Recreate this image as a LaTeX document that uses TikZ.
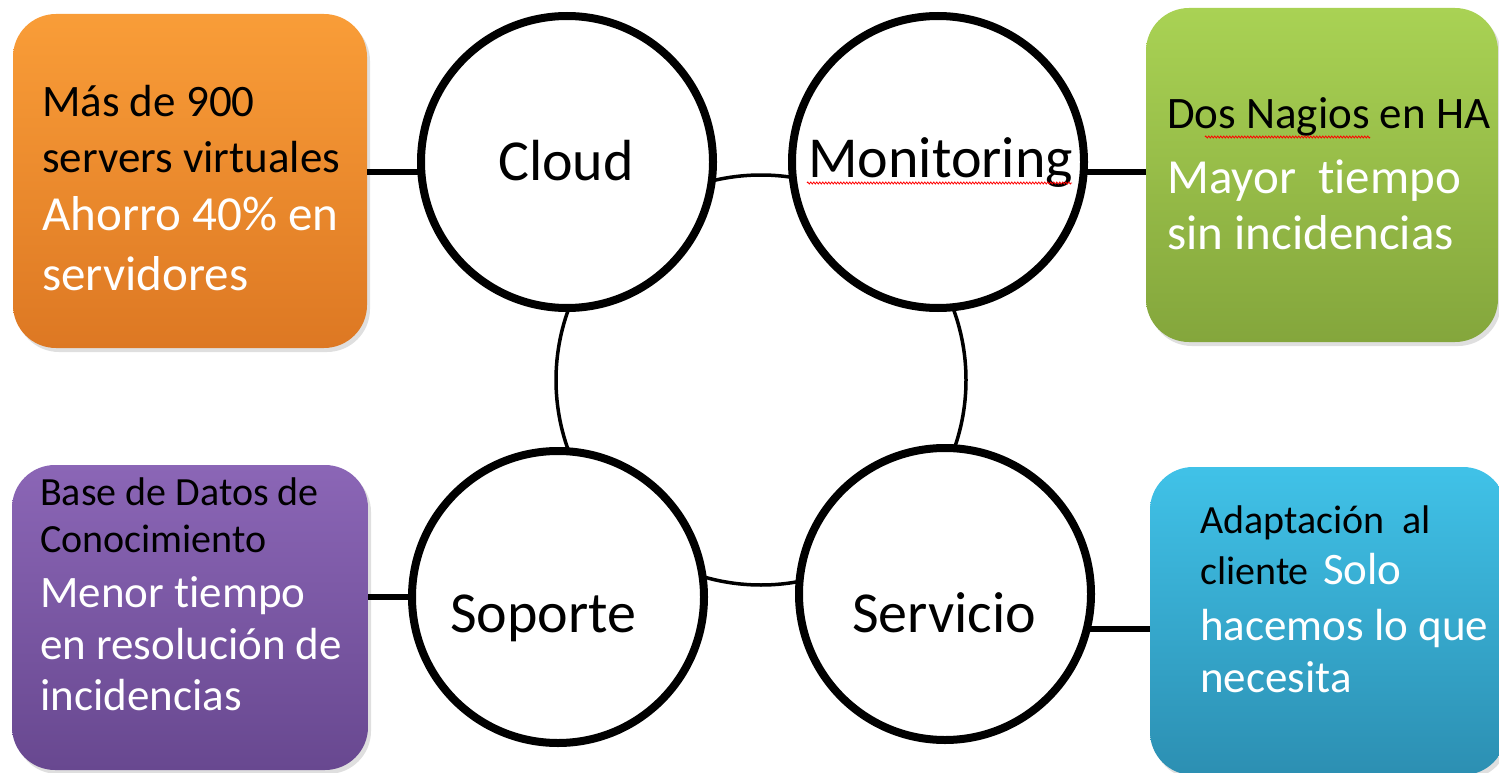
\documentclass[tikz,border=0pt]{standalone}
\usepackage{fontspec}
\setmainfont{Carlito}[Ligatures=NoCommon]
\usetikzlibrary{shadows,decorations.pathmorphing}
\definecolor{orTop}{HTML}{F99D38}
\definecolor{orBot}{HTML}{DD7823}
\definecolor{grTop}{HTML}{A9D254}
\definecolor{grBot}{HTML}{84A63C}
\definecolor{puTop}{HTML}{8B66B6}
\definecolor{puBot}{HTML}{684890}
\definecolor{blTop}{HTML}{40C2E8}
\definecolor{blBot}{HTML}{2C8FB2}
\begin{document}
\begin{tikzpicture}[x=1pt,y=-1pt,
  box/.style={rectangle, rounded corners=43pt, draw=none, inner sep=0pt, outer sep=0pt,
    drop shadow={shadow xshift=3pt, shadow yshift=-4pt, opacity=0.25}},
  ring/.style={circle, draw=black, line width=8pt, fill=white, minimum size=292pt, inner sep=0pt, outer sep=0pt},
  bigring/.style={circle, draw=black, line width=3.5pt, minimum size=410pt, inner sep=0pt, outer sep=0pt},
  link/.style={draw=black, line width=6pt},
  lbl/.style={anchor=base west, inner sep=0pt, font=\fontsize{58}{62}\selectfont},
  blk/.style={anchor=base west, inner sep=0pt, text=black},
  wht/.style={anchor=base west, inner sep=0pt, text=white},
  squig/.style={draw=red, line width=0.8pt, decorate, decoration={zigzag, segment length=3pt, amplitude=1pt}}
]
\useasboundingbox (0,0) rectangle (1499,773);

% central ring
\node[bigring] (hub) at (761,380) {};

% boxes
\node[box, minimum width=354pt, minimum height=334pt, top color=orTop, bottom color=orBot] (orange) at (190,181) {};
\node[box, minimum width=352pt, minimum height=334pt, top color=grTop, bottom color=grBot] (green) at (1322,175) {};
\node[box, minimum width=356pt, minimum height=305pt, top color=puTop, bottom color=puBot] (purple) at (190,617.5) {};
\node[box, minimum width=356pt, minimum height=308pt, top color=blTop, bottom color=blBot] (blue) at (1328,621) {};

% circles
\node[ring] (cloud) at (567,162) {};
\node[ring] (monitoring) at (938,162) {};
\node[ring] (soporte) at (558,597) {};
\node[ring] (servicio) at (945,594) {};

% connectors
\draw[link] (cloud.184) -- (cloud.184 -| orange.east);
\draw[link] (monitoring.-4) -- (monitoring.-4 -| green.west);
\draw[link] (soporte.west) -- (soporte.west -| purple.east);
\draw[link] (servicio.-14) -- (servicio.-14 -| blue.west);

% circle labels
\node[lbl] (tcloud) at (498,180) {Cloud};
\node[lbl] (tmon) at (808,178) {Monitoring};
\node[lbl] (tsop) at (450,632) {Soporte};
\node[lbl] (tser) at (852,632) {Servicio};
\draw[squig] (807,183) -- (1072,183);

% orange text
\node[blk, font=\fontsize{45}{50}\selectfont] (o1) at (42,117) {Más de 900};
\node[blk, font=\fontsize{45}{50}\selectfont] (o2) at (42,172) {servers virtuales};
\node[wht, font=\fontsize{49}{54}\selectfont] (o3) at (42,230) {Ahorro 40\% en};
\node[wht, font=\fontsize{49}{54}\selectfont] (o4) at (42,290) {servidores};

% green text
\node[blk, font=\fontsize{45}{50}\selectfont] (g1) at (1167,129) {Dos Nagios en HA};
\draw[squig] (1205,137) -- (1370,137);
\node[wht, font=\fontsize{49}{54}\selectfont] (g2) at (1167,193) {Mayor\ \ tiempo};
\node[wht, font=\fontsize{49}{54}\selectfont] (g3) at (1167,249) {sin incidencias};

% purple text
\node[blk, font=\fontsize{40}{44}\selectfont] (p1) at (40,505) {Base de Datos de};
\node[blk, font=\fontsize{40}{44}\selectfont] (p2) at (40,552) {Conocimiento};
\node[wht, font=\fontsize{45}{50}\selectfont] (p3) at (40,607) {Menor tiempo};
\node[wht, font=\fontsize{45}{50}\selectfont] (p4) at (40,659) {en resolución de};
\node[wht, font=\fontsize{45}{50}\selectfont] (p5) at (40,710) {incidencias};

% blue text
\node[blk, font=\fontsize{40}{44}\selectfont] (b1) at (1200,533) {Adaptación\ \ al};
\node[blk, font=\fontsize{40}{44}\selectfont] (b2) at (1200,584) {cliente};
\node[wht, font=\fontsize{45}{50}\selectfont] (b2w) at (1323,584) {Solo};
\node[wht, font=\fontsize{45}{50}\selectfont] (b3) at (1200,640) {hacemos lo que};
\node[wht, font=\fontsize{45}{50}\selectfont] (b4) at (1200,692) {necesita};
\end{tikzpicture}
\end{document}
